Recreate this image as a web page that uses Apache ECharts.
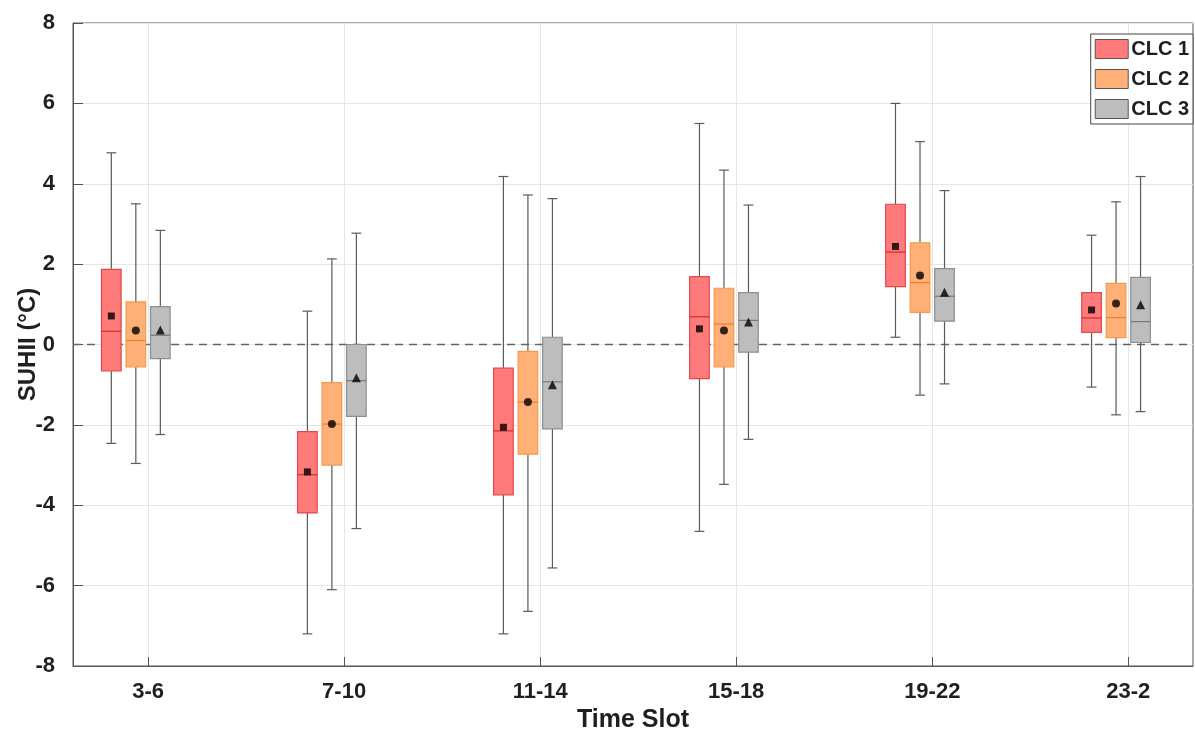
<!DOCTYPE html>
<html>
<head>
<meta charset="utf-8">
<script src="https://cdn.jsdelivr.net/npm/echarts@6/dist/echarts.min.js"></script>
<style>
  html, body { margin: 0; padding: 0; background: #fff; }
  #chart { width: 1195px; height: 736px; }
</style>
</head>
<body>
<div id="chart"></div>
<script>
const timeSlots = ["3-6", "7-10", "11-14", "15-18", "19-22", "23-2"];
const seriesNames = ["CLC 1", "CLC 2", "CLC 3"];

// [lower whisker, q1, median, q3, upper whisker] per time slot
const clc1Boxes = [
  [-2.46, -0.66, 0.33, 1.87, 4.77],
  [-7.2, -4.19, -3.24, -2.17, 0.83],
  [-7.2, -3.74, -2.15, -0.59, 4.18],
  [-4.65, -0.85, 0.69, 1.69, 5.5],
  [0.18, 1.44, 2.3, 3.49, 6.0],
  [-1.06, 0.3, 0.66, 1.29, 2.72],
];
const clc2Boxes = [
  [-2.96, -0.56, 0.1, 1.06, 3.5],
  [-6.1, -3.0, -1.98, -0.95, 2.13],
  [-6.64, -2.73, -1.43, -0.17, 3.72],
  [-3.48, -0.56, 0.51, 1.4, 4.34],
  [-1.26, 0.8, 1.54, 2.53, 5.05],
  [-1.75, 0.17, 0.67, 1.52, 3.55],
];
const clc3Boxes = [
  [-2.24, -0.35, 0.23, 0.94, 2.84],
  [-4.58, -1.79, -0.9, 0.0, 2.77],
  [-5.56, -2.1, -0.93, 0.18, 3.63],
  [-2.36, -0.19, 0.6, 1.29, 3.47],
  [-0.98, 0.58, 1.2, 1.89, 3.83],
  [-1.67, 0.05, 0.57, 1.67, 4.18],
];

const clc1Means = [0.71, -3.17, -2.06, 0.39, 2.44, 0.86];
const clc2Means = [0.35, -1.98, -1.43, 0.35, 1.72, 1.02];
const clc3Means = [0.36, -0.83, -1.0, 0.56, 1.3, 0.99];

const yTicks = [-8, -6, -4, -2, 0, 2, 4, 6, 8];

const styles = [
  { fill: "#ff7b7b", border: "#e2474b", median: "#d42a2a", mean: "rect", meanSize: 7, offset: -0.1875 },
  { fill: "#ffb077", border: "#f39a4e", median: "#ea7f2c", mean: "circle", meanSize: 8, offset: -0.0625 },
  { fill: "#bdbdbd", border: "#8e8e8e", median: "#777777", mean: "triangle", meanSize: 9, offset: 0.0625 },
];

const BOX_W = 0.1;
const FONT = "'Liberation Sans', Arial, sans-serif";
const TEXT = "#1f1f1f";

const boxSets = [clc1Boxes, clc2Boxes, clc3Boxes];
const meanSets = [clc1Means, clc2Means, clc3Means];

const makeBoxRenderer = (style) => (params, api) => {
  const x = api.value(0);
  const lo = api.coord([x, api.value(1)]);
  const q1 = api.coord([x, api.value(2)]);
  const med = api.coord([x, api.value(3)]);
  const q3 = api.coord([x, api.value(4)]);
  const hi = api.coord([x, api.value(5)]);
  const half = api.size([BOX_W, 0])[0] / 2;
  const cap = half / 2;
  const cx = lo[0];
  const whisker = { stroke: "#5a5a5a", lineWidth: 1.2 };

  return {
    type: "group",
    children: [
      { type: "line", shape: { x1: cx, y1: hi[1], x2: cx, y2: q3[1] }, style: whisker },
      { type: "line", shape: { x1: cx, y1: q1[1], x2: cx, y2: lo[1] }, style: whisker },
      { type: "line", shape: { x1: cx - cap, y1: hi[1], x2: cx + cap, y2: hi[1] }, style: whisker },
      { type: "line", shape: { x1: cx - cap, y1: lo[1], x2: cx + cap, y2: lo[1] }, style: whisker },
      {
        type: "rect",
        shape: { x: cx - half, y: q3[1], width: half * 2, height: q1[1] - q3[1] },
        style: { fill: style.fill, stroke: style.border, lineWidth: 1.2 },
      },
      {
        type: "line",
        shape: { x1: cx - half, y1: med[1], x2: cx + half, y2: med[1] },
        style: { stroke: style.median, lineWidth: 1.2 },
      },
    ],
  };
};

const boxSeries = seriesNames.map((name, i) => ({
  name,
  type: "custom",
  renderItem: makeBoxRenderer(styles[i]),
  itemStyle: { color: styles[i].fill, borderColor: "#444" },
  encode: { x: 0, y: [1, 2, 3, 4, 5] },
  data: boxSets[i].map((b, k) => [k + 1 + styles[i].offset, ...b]),
  z: 2,
}));

const meanSeries = seriesNames.map((name, i) => ({
  name: `${name} mean`,
  type: "scatter",
  symbol: styles[i].mean,
  symbolSize: styles[i].meanSize,
  itemStyle: { color: "#000" },
  data: meanSets[i].map((m, k) => [k + 1 + styles[i].offset, m]),
  z: 5,
  ...(i === 0
    ? {
        markLine: {
          silent: true,
          symbol: "none",
          label: { show: false },
          lineStyle: { type: [8, 6], color: "#666", width: 1.3 },
          data: [{ yAxis: 0 }],
          z: 1,
        },
      }
    : {}),
}));

const chart = echarts.init(document.getElementById("chart"));
chart.setOption({
  animation: false,
  backgroundColor: "#fff",
  grid: {
    left: 73,
    right: 2,
    top: 23,
    bottom: 70,
    containLabel: false,
    outerBoundsMode: "none",
    show: true,
    borderColor: "#555",
    borderWidth: 1,
  },
  legend: {
    orient: "vertical",
    right: 2,
    top: 34,
    backgroundColor: "#fff",
    borderColor: "#444",
    borderWidth: 1,
    borderRadius: 0,
    padding: [5, 4, 5, 4],
    itemGap: 10,
    itemWidth: 33,
    itemHeight: 19,
    textStyle: { fontFamily: FONT, fontSize: 20, fontWeight: "bold", color: TEXT, padding: [0, 0, 0, -2] },
    data: seriesNames.map((name, i) => ({
      name,
      icon: "rect",
      itemStyle: { color: styles[i].fill, borderColor: "#555", borderWidth: 1 },
    })),
  },
  xAxis: {
    type: "value",
    min: 0.617,
    max: 6.33,
    name: "Time Slot",
    nameLocation: "middle",
    nameGap: 42,
    nameMoveOverlap: false,
    nameTextStyle: { fontFamily: FONT, fontSize: 25, fontWeight: "bold", color: TEXT },
    axisLine: { show: true, onZero: false, lineStyle: { color: "#555", width: 1 } },
    axisTick: {
      show: true,
      inside: true,
      length: 9,
      customValues: [1, 2, 3, 4, 5, 6],
      lineStyle: { color: "#555" },
    },
    axisLabel: {
      customValues: [1, 2, 3, 4, 5, 6],
      formatter: (v) => timeSlots[Math.round(v) - 1] ?? "",
      fontFamily: FONT,
      fontSize: 22,
      fontWeight: "bold",
      color: TEXT,
      margin: 15,
    },
    splitLine: { show: true, lineStyle: { color: "#e6e6e6", width: 1 } },
  },
  yAxis: {
    type: "value",
    min: -8,
    max: 8,
    interval: 2,
    name: "SUHII (°C)",
    nameLocation: "middle",
    nameGap: 33,
    nameMoveOverlap: false,
    nameTextStyle: { fontFamily: FONT, fontSize: 24, fontWeight: "bold", color: TEXT },
    axisLine: { show: true, onZero: false, lineStyle: { color: "#555", width: 1 } },
    axisTick: { show: true, inside: true, length: 10, lineStyle: { color: "#555" } },
    axisLabel: {
      fontFamily: FONT,
      fontSize: 22,
      fontWeight: "bold",
      color: TEXT,
      margin: 18,
      formatter: (v) => (yTicks.includes(v) ? String(v) : ""),
    },
    splitLine: { show: true, lineStyle: { color: "#e6e6e6", width: 1 } },
  },
  series: [...boxSeries, ...meanSeries],
});
</script>
</body>
</html>
